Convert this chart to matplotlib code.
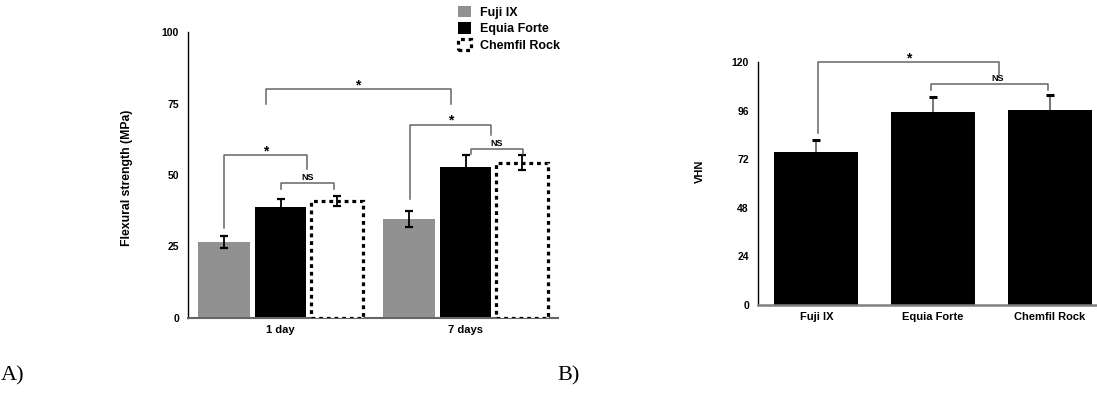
import matplotlib
matplotlib.use("Agg")
import matplotlib.pyplot as plt
import numpy as np

plt.rcParams['font.family'] = ['Liberation Sans', 'DejaVu Sans']
plt.rcParams['font.weight'] = 'bold'

# ---------------- data ----------------
groups = ['1 day', '7 days']
materials = ['Fuji IX', 'Equia Forte', 'Chemfil Rock']
flex_fuji = [26.5, 34.7]
flex_fuji_err = [2.0, 2.8]
flex_equia = [38.8, 52.7]
flex_equia_err = [2.9, 4.2]
flex_chemfil = [41.0, 54.3]
flex_chemfil_err = [1.8, 2.7]
flex_yticks = [0, 25, 50, 75, 100]

vhn_materials = ['Fuji IX', 'Equia Forte', 'Chemfil Rock']
vhn = [75.6, 95.3, 96.3]
vhn_err = [6.0, 7.6, 7.6]
vhn_yticks = [0, 24, 48, 72, 96, 120]

# significance brackets: (x_left, x_right, y_top, y_left_end, y_right_end, label, label_x)
brackets_A = [
    (-0.305, 0.145, 57.0, 31.5, 52.0, '*', -0.08),
    (0.0, 0.29, 47.2, 45.1, 45.1, 'NS', 0.145),
    (-0.08, 0.92, 80.0, 75.0, 75.0, '*', 0.42),
    (0.70, 1.14, 67.5, 41.6, 64.0, '*', 0.92),
    (1.03, 1.31, 59.0, 57.3, 57.3, 'NS', 1.17),
]
brackets_B = [
    (0.017, 1.56, 120.0, 85.0, 113.6, '*', 0.79),
    (0.98, 1.98, 109.0, 106.2, 106.2, 'NS', 1.555),
]

W, H = 1097, 399
fig = plt.figure(figsize=(W / 100, H / 100), dpi=100)

gray = '#919191'
brk = '#666666'

# ---------------- panel A ----------------
axA = fig.add_axes([188 / W, 1 - 318 / H, (558 - 188) / W, (318 - 32) / H])
x = np.arange(len(groups))
off = 0.305
bw = 0.281
axA.bar(x - off, flex_fuji, bw, color=gray, zorder=2, label=materials[0])
axA.bar(x, flex_equia, bw, color='black', zorder=2, label=materials[1])
axA.bar(x + off, flex_chemfil, bw, facecolor='white', edgecolor='black',
        linestyle=(0, (1.2, 1.2)), linewidth=2.3, zorder=3, label=materials[2])
for xs, vals, errs in [(x - off, flex_fuji, flex_fuji_err),
                       (x, flex_equia, flex_equia_err),
                       (x + off, flex_chemfil, flex_chemfil_err)]:
    axA.errorbar(xs, vals, yerr=errs, fmt='none', ecolor='black',
                 elinewidth=1.3, capsize=3, capthick=1.6, zorder=4)

axA.set_xlim(-0.5, 1.5)
axA.set_ylim(0, 100)
axA.set_xticks(x)
axA.set_xticklabels(groups, fontsize=8, fontweight='bold')
axA.set_yticks(flex_yticks)
axA.set_yticklabels([str(v) for v in flex_yticks], fontsize=7.5, fontweight='bold')
axA.tick_params(axis='both', length=0)
axA.tick_params(axis='y', pad=6.5)
axA.tick_params(axis='x', pad=5)
axA.set_ylabel('Flexural strength (MPa)', fontsize=8.8, fontweight='bold', va='center')
axA.yaxis.set_label_coords(-0.165, 0.49)
for s in ['top', 'right']:
    axA.spines[s].set_visible(False)
axA.spines['left'].set_linewidth(1.0)
axA.spines['bottom'].set_color('#666666')
axA.spines['bottom'].set_linewidth(1.5)

for xl, xr, yt, yle, yre, lab, lx in brackets_A:
    axA.plot([xl, xl, xr, xr], [yle, yt, yt, yre], color=brk, lw=1.1,
             clip_on=False, zorder=4)
    if lab == '*':
        axA.text(lx, yt, lab, ha='center', va='baseline', fontsize=10,
                 fontweight='bold', zorder=5)
    else:
        axA.annotate(lab, (lx, yt), xytext=(0, 0.8), textcoords='offset points',
                     ha='center', va='bottom', fontsize=6.5, fontweight='bold')

legA = axA.legend(loc='upper left', bbox_to_anchor=(458 / W, 1 - 6 / H),
                  bbox_transform=fig.transFigure, frameon=False, fontsize=9,
                  handlelength=1.0, handleheight=1.0, handletextpad=0.75,
                  labelspacing=0.28, borderpad=0, borderaxespad=0)
for t in legA.get_texts():
    t.set_fontweight('bold')

# ---------------- panel B ----------------
axB = fig.add_axes([758 / W, 1 - 305 / H, (1097 - 758) / W, (305 - 62) / H])
xb = np.arange(len(vhn_materials))
axB.bar(xb, vhn, 0.72, color='black', zorder=2)
_, caps, _ = axB.errorbar(xb, vhn, yerr=vhn_err, fmt='none', ecolor='#7a7a7a',
                          elinewidth=1.5, capsize=3, capthick=2.2, zorder=1)
for c in caps:
    c.set_color('black')
    c.set_markeredgecolor('black')
    c.set_markerfacecolor('black')
axB.set_xlim(-0.5, (1097 - 817) / 116.5)
axB.set_ylim(0, 120)
axB.set_xticks(xb)
axB.set_xticklabels(vhn_materials, fontsize=8, fontweight='bold')
axB.set_yticks(vhn_yticks)
axB.set_yticklabels([str(v) for v in vhn_yticks], fontsize=7.5, fontweight='bold')
axB.tick_params(axis='both', length=0)
axB.tick_params(axis='y', pad=6.5)
axB.tick_params(axis='x', pad=5)
axB.set_ylabel('VHN', fontsize=8, fontweight='bold', va='center')
axB.yaxis.set_label_coords(-0.171, 0.55)
for s in ['top', 'right']:
    axB.spines[s].set_visible(False)
axB.spines['left'].set_linewidth(1.0)
axB.spines['bottom'].set_color('#808080')
axB.spines['bottom'].set_linewidth(1.8)

for xl, xr, yt, yle, yre, lab, lx in brackets_B:
    axB.plot([xl, xl, xr, xr], [yle, yt, yt, yre], color=brk, lw=1.1,
             clip_on=False, zorder=4)
    if lab == '*':
        axB.text(lx, yt, lab, ha='center', va='baseline', fontsize=10,
                 fontweight='bold', zorder=5)
    else:
        axB.annotate(lab, (lx, yt), xytext=(0, 0.8), textcoords='offset points',
                     ha='center', va='bottom', fontsize=6.5, fontweight='bold')

# panel letters
fig.text(1 / W, 1 - 376 / H, 'A)', fontsize=16, fontfamily='Liberation Serif',
         fontweight='normal', ha='left', va='center')
fig.text(557 / W, 1 - 376 / H, 'B)', fontsize=16, fontfamily='Liberation Serif',
         fontweight='normal', ha='left', va='center')

fig.savefig('out.png', dpi=100)
